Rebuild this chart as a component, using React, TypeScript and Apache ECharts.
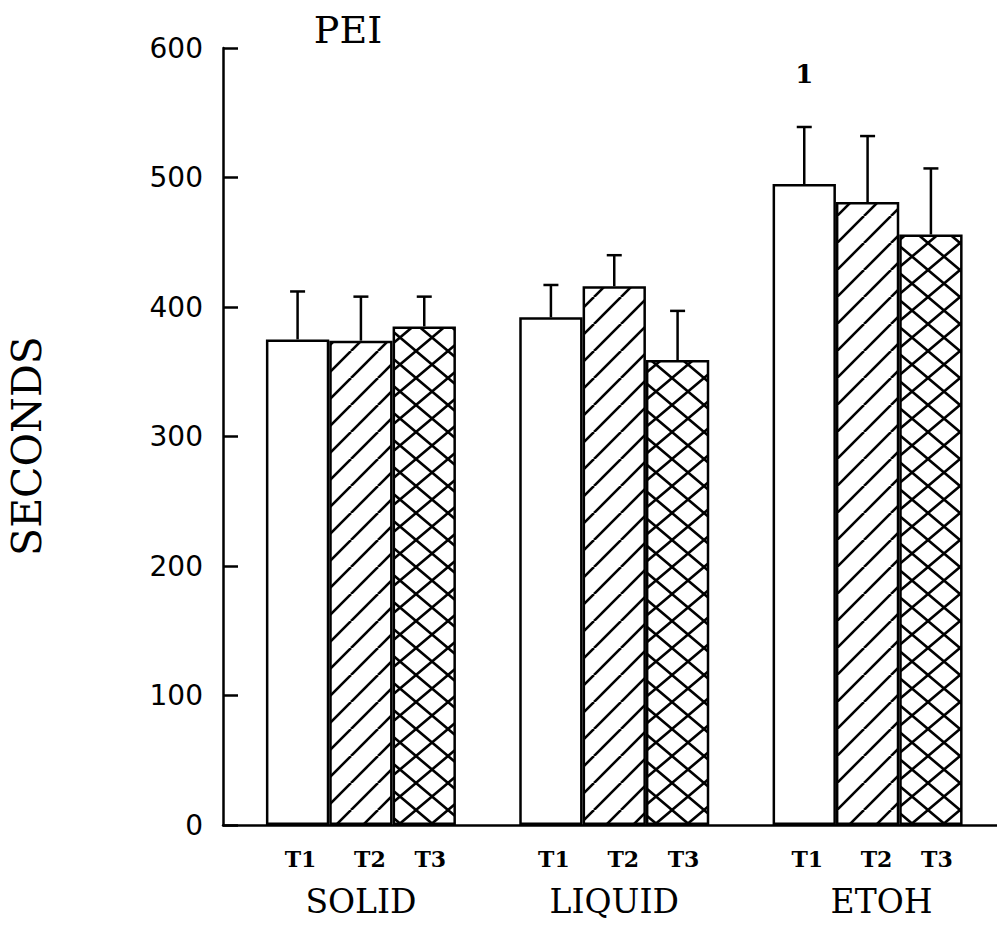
import React, { useEffect, useRef } from "react";
import * as echarts from "echarts";

const categories = ["SOLID", "LIQUID", "ETOH"];
const seriesNames = ["T1", "T2", "T3"];
const t1Means = [375, 392, 495];
const t2Means = [374, 416, 481];
const t3Means = [385, 359, 456];
const t1Errors = [37, 25, 44];
const t2Errors = [34, 24, 51];
const t3Errors = [23, 38, 51];
const yMin = 0;
const yMax = 600;
const yInterval = 100;
const annotations = [{ category: "ETOH", series: "T1", value: 580, text: "1" }];
const titleText = "PEI";
const yAxisTitle = "SECONDS";

function makePattern(kind: "plain" | "diag" | "cross") {
  const w = kind === "cross" ? 32 : 27;
  const h = 27;
  const c = document.createElement("canvas");
  c.width = w;
  c.height = h;
  const ctx = c.getContext("2d")!;
  ctx.fillStyle = "#fff";
  ctx.fillRect(0, 0, w, h);
  ctx.strokeStyle = "#000";
  ctx.lineWidth = 2.6;
  if (kind !== "plain") {
    for (const dx of [-w, 0, w]) {
      ctx.beginPath();
      ctx.moveTo(dx, h);
      ctx.lineTo(dx + w, 0);
      ctx.stroke();
    }
  }
  if (kind === "cross") {
    for (const dx of [-w, 0, w]) {
      ctx.beginPath();
      ctx.moveTo(dx, 0);
      ctx.lineTo(dx + w, h);
      ctx.stroke();
    }
  }
  return { image: c, repeat: "repeat", imageWidth: w, imageHeight: h } as any;
}

export default function App() {
  const ref = useRef<HTMLDivElement>(null);
  useEffect(() => {
    const chart = echarts.init(ref.current!, null, { renderer: "svg", width: 997, height: 926 });
    const means = [t1Means, t2Means, t3Means];
    const errs = [t1Errors, t2Errors, t3Errors];
    const fills = ["#ffffff", makePattern("diag"), makePattern("cross")];
    const labelOffsets = [[3, 0], [9, 0], [6, 0]];
    const errData: number[][] = [];
    means.forEach((arr, s) =>
      arr.forEach((m, c) => errData.push([c, m, m + errs[s][c], s]))
    );
    const annData = annotations.map((a) => [
      categories.indexOf(a.category),
      a.value,
      seriesNames.indexOf(a.series),
    ]);
    const gridTop = 48;
    const gridBottom = 101;
    const option: any = {
      animation: false,
      backgroundColor: "#fff",
      graphic: [
        {
          type: "text",
          x: 348,
          y: 30,
          style: {
            text: titleText,
            font: '38px "DejaVu Serif"',
            fill: "#000",
            align: "center",
            verticalAlign: "middle",
            textAlign: "center",
            textVerticalAlign: "middle",
          },
        },
        {
          type: "text",
          x: 27,
          y: 446,
          rotation: Math.PI / 2,
          style: {
            text: yAxisTitle,
            font: '41px "DejaVu Serif"',
            fill: "#000",
            align: "center",
            verticalAlign: "middle",
            textAlign: "center",
            textVerticalAlign: "middle",
          },
        },
      ],
      grid: [
        { left: 223, right: 0, top: gridTop, bottom: gridBottom },
        { left: 234.25, right: 2.75, top: gridTop, bottom: gridBottom },
      ],
      xAxis: [
        {
          gridIndex: 0,
          type: "value",
          min: 0,
          max: 1,
          axisLine: { show: true, onZero: false, lineStyle: { color: "#000", width: 2.5 } },
          axisTick: { show: false },
          axisLabel: { show: false },
          splitLine: { show: false },
        },
        {
          gridIndex: 1,
          type: "category",
          data: categories.map((c, i) =>
            i === 2 ? { value: c, textStyle: { padding: [0, 0, 0, 28] } } : c
          ),
          boundaryGap: true,
          axisLine: { show: false },
          axisTick: { show: false },
          axisLabel: {
            margin: 60,
            color: "#000",
            fontFamily: "DejaVu Serif",
            fontSize: 33,
          },
        },
      ],
      yAxis: [
        {
          gridIndex: 0,
          type: "value",
          min: yMin,
          max: yMax,
          interval: yInterval,
          axisLine: { show: true, lineStyle: { color: "#000", width: 2.5 } },
          axisTick: { show: true, inside: true, length: 15, lineStyle: { color: "#000", width: 2.5 } },
          axisLabel: {
            margin: 20,
            color: "#000",
            fontFamily: "DejaVu Sans",
            fontSize: 28,
          },
          splitLine: { show: false },
        },
        {
          gridIndex: 1,
          type: "value",
          min: yMin,
          max: yMax,
          show: false,
          splitLine: { show: false },
        },
      ],
      series: [
        ...seriesNames.map((name, s) => ({
          type: "bar",
          name,
          xAxisIndex: 1,
          yAxisIndex: 1,
          data: means[s],
          barGap: "0%",
          barCategoryGap: "25%",
          itemStyle: { color: fills[s], borderColor: "#000", borderWidth: 2.5 },
          label: {
            show: true,
            position: "bottom",
            distance: 23,
            offset: labelOffsets[s],
            formatter: "{a}",
            color: "#000",
            fontFamily: "DejaVu Serif",
            fontWeight: "bold",
            fontSize: 22,
          },
          z: 2,
        })),
        {
          type: "custom",
          xAxisIndex: 1,
          yAxisIndex: 1,
          data: errData,
          encode: { x: 0, y: [1, 2] },
          z: 3,
          renderItem: (params: any, api: any) => {
            const c = api.value(0);
            const m = api.value(1);
            const top = api.value(2);
            const s = api.value(3);
            const band = api.size([1, 0])[0];
            const bw = band * 0.25;
            const base = api.coord([c, m]);
            const x = base[0] + (s - 1) * bw;
            const yTop = api.coord([c, top])[1];
            return {
              type: "group",
              children: [
                { type: "line", shape: { x1: x, y1: base[1], x2: x, y2: yTop }, style: { stroke: "#000", lineWidth: 2.5 } },
                { type: "line", shape: { x1: x - 7.5, y1: yTop, x2: x + 7.5, y2: yTop }, style: { stroke: "#000", lineWidth: 2.5 } },
              ],
            };
          },
        },
        {
          type: "custom",
          xAxisIndex: 1,
          yAxisIndex: 1,
          data: annData,
          encode: { x: 0, y: 1 },
          z: 3,
          renderItem: (params: any, api: any) => {
            const c = api.value(0);
            const v = api.value(1);
            const s = api.value(2);
            const band = api.size([1, 0])[0];
            const bw = band * 0.25;
            const p = api.coord([c, v]);
            return {
              type: "text",
              x: p[0] + (s - 1) * bw,
              y: p[1],
              style: {
                text: annotations[params.dataIndex].text,
                font: 'bold 26px "DejaVu Serif"',
                fill: "#000",
                align: "center",
                verticalAlign: "middle",
                textAlign: "center",
                textVerticalAlign: "middle",
              },
            };
          },
        },
      ],
    };
    chart.setOption(option);
    return () => chart.dispose();
  }, []);
  return (
    <div
      ref={ref}
      style={{ position: "absolute", left: 0, top: 0, width: 997, height: 926, background: "#fff" }}
    />
  );
}
